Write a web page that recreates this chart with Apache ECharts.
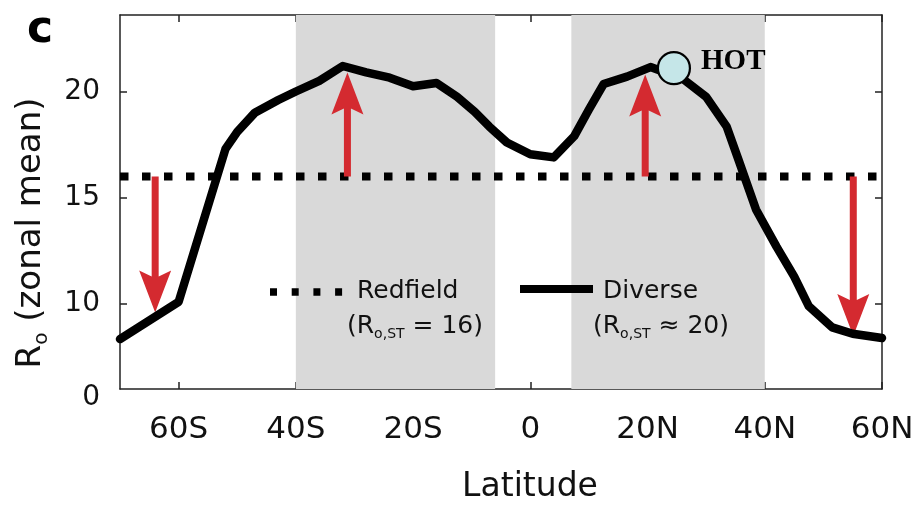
<!DOCTYPE html>
<html>
<head>
<meta charset="utf-8">
<script src="https://cdn.jsdelivr.net/npm/echarts@6/dist/echarts.min.js"></script>
<style>
  html, body { margin: 0; padding: 0; background: #fff; }
  #chart { width: 917px; height: 507px; }
</style>
</head>
<body>
<div id="chart"></div>
<script>
// Zonal-mean R_o along latitude (negative = south)
var latitudes = [-70, -60, -52, -50, -47, -43, -40, -36, -32, -28, -24, -20, -16, -12.5, -9.5, -7, -4, 0, 4, 7.5, 10, 12.5, 16.5, 20.5, 26, 30, 33.5, 35.5, 38.5, 42, 45, 47.5, 51.5, 55, 60];
var diverseValues = [8.35, 10.1, 17.3, 18.1, 19.0, 19.6, 20.0, 20.5, 21.2, 20.9, 20.65, 20.25, 20.4, 19.75, 19.05, 18.35, 17.6, 17.05, 16.9, 17.9, 19.15, 20.35, 20.7, 21.15, 20.6, 19.75, 18.35, 16.8, 14.45, 12.7, 11.3, 9.9, 8.9, 8.6, 8.4];

// Redfield reference ratio
var redfieldValue = 16;
var latRange = [-70, 60];

// Shaded latitude bands
var bandStarts = [-40, 7];
var bandEnds = [-6, 40];

// Arrows from the Redfield value to the zonal mean
var arrowLats = [-64, -31.2, 19.6, 55.1];
var arrowTips = [9.6, 20.9, 20.8, 8.5];

// HOT station marker
var hotLat = [24.5];
var hotValue = [21.1];
var hotName = 'HOT';

// Axis tick labels
var xTickValues = [-60, -40, -20, 0, 20, 40, 60];
var xTickLabels = ['60S', '40S', '20S', '0', '20N', '40N', '60N'];
var yTickValues = [6, 10, 15, 20];
var yTickLabels = ['0', '10', '15', '20'];
var yRange = [6, 23.6];

var SANS = '"DejaVu Sans", sans-serif';
var RED = '#d42a30';

var chart = echarts.init(document.getElementById('chart'), null, { renderer: 'canvas' });

var diverseData = latitudes.map(function (lat, i) { return [lat, diverseValues[i]]; });
var redfieldData = [[latRange[0], redfieldValue], [latRange[1], redfieldValue]];
var arrowData = arrowLats.map(function (lat, i) { return [lat, redfieldValue, arrowTips[i]]; });
var hotData = hotLat.map(function (lat, i) { return [lat, hotValue[i]]; });
var bandData = bandStarts.map(function (s, i) { return [{ xAxis: s }, { xAxis: bandEnds[i] }]; });

function xLabel(v) {
  var i = xTickValues.indexOf(v);
  return i >= 0 ? xTickLabels[i] : '';
}
function yLabel(v) {
  var i = yTickValues.indexOf(v);
  if (i < 0) return '';
  // the bottom label sits a little below the axis corner
  return i === 0 ? '{low|' + yTickLabels[i] + '}' : yTickLabels[i];
}

var axisLine = { show: true, onZero: false, lineStyle: { color: '#222', width: 1.5 } };
var tickStyle = { show: true, inside: true, length: 7, lineStyle: { color: '#222', width: 1.5 } };

function arrowItem(params, api) {
  var base = api.coord([api.value(0), api.value(1)]);
  var tip = api.coord([api.value(0), api.value(2)]);
  var dir = tip[1] > base[1] ? 1 : -1;
  var x = base[0];
  var shaftHalf = 3.5, headHalf = 16, headLen = 42, notch = 6;
  var backY = tip[1] - dir * headLen;
  var neckY = tip[1] - dir * (headLen - notch);
  return {
    type: 'polygon',
    shape: {
      points: [
        [x - shaftHalf, base[1]],
        [x + shaftHalf, base[1]],
        [x + shaftHalf, neckY],
        [x + headHalf, backY],
        [x, tip[1]],
        [x - headHalf, backY],
        [x - shaftHalf, neckY]
      ]
    },
    style: { fill: RED }
  };
}

var option = {
  backgroundColor: '#ffffff',
  animation: false,
  grid: { left: 120, right: 35, top: 15, bottom: 118, containLabel: false, outerBoundsMode: 'none' },
  xAxis: [
    {
      type: 'value', min: latRange[0], max: latRange[1],
      name: 'Latitude', nameLocation: 'middle', nameGap: 82,
      nameTextStyle: { fontFamily: SANS, fontSize: 33, color: '#111', padding: [0, 0, 0, 58] },
      axisLine: axisLine,
      axisTick: Object.assign({ customValues: xTickValues }, tickStyle),
      axisLabel: { customValues: xTickValues, formatter: xLabel, fontFamily: SANS, fontSize: 31, color: '#111', margin: 25 },
      splitLine: { show: false }
    },
    {
      type: 'value', min: latRange[0], max: latRange[1], position: 'top',
      axisLine: axisLine,
      axisTick: Object.assign({ customValues: xTickValues }, tickStyle),
      axisLabel: { show: false },
      splitLine: { show: false }
    }
  ],
  yAxis: [
    {
      type: 'value', min: yRange[0], max: yRange[1],
      name: '{m|R}{s|o}{m| (zonal mean)}', nameLocation: 'middle', nameGap: 68, nameRotate: 90,
      nameTextStyle: {
        color: '#111',
        padding: [0, 62, 0, 0],
        rich: {
          m: { fontFamily: SANS, fontSize: 34, color: '#111', lineHeight: 42 },
          s: { fontFamily: SANS, fontSize: 20, color: '#111', lineHeight: 20, verticalAlign: 'bottom' }
        }
      },
      axisLine: axisLine,
      axisTick: Object.assign({ customValues: [10, 15, 20] }, tickStyle),
      axisLabel: {
        customValues: yTickValues, formatter: yLabel, fontFamily: SANS, fontSize: 28, color: '#111', margin: 20,
        rich: { low: { fontFamily: SANS, fontSize: 28, color: '#111', padding: [18, 0, 0, 0] } }
      },
      splitLine: { show: false }
    },
    {
      type: 'value', min: yRange[0], max: yRange[1], position: 'right',
      axisLine: axisLine,
      axisTick: Object.assign({ customValues: [10, 15, 20] }, tickStyle),
      axisLabel: { show: false },
      splitLine: { show: false }
    }
  ],
  series: [
    {
      name: 'Redfield', type: 'line', data: redfieldData, symbol: 'none', z: 3,
      lineStyle: { color: '#000', width: 8, type: [8.5, 13.5], cap: 'butt' },
      markArea: {
        silent: true,
        itemStyle: { color: '#d9d9d9' },
        data: bandData
      }
    },
    {
      name: 'arrows', type: 'custom', data: arrowData, z: 4, silent: true,
      encode: { x: 0, y: [1, 2] },
      renderItem: arrowItem
    },
    {
      name: 'Diverse', type: 'line', data: diverseData, symbol: 'none', z: 5,
      lineStyle: { color: '#000', width: 8.5, join: 'round', cap: 'round' }
    },
    {
      name: hotName, type: 'scatter', data: hotData, z: 6, symbol: 'circle', symbolSize: 32,
      itemStyle: { color: '#c5e6e8', borderColor: '#000', borderWidth: 2.2, opacity: 1 },
      label: {
        show: true, position: 'right', distance: 10, formatter: hotName,
        fontFamily: '"Liberation Serif", "Times New Roman", serif', fontWeight: 'bold', fontSize: 29, color: '#000',
        offset: [0, -7]
      }
    }
  ],
  graphic: [
    { type: 'text', left: 27, top: 9, z: 100, style: { text: 'c', font: 'bold 44px ' + SANS, fill: '#000' } },
    // legend: Redfield
    { type: 'line', z: 100, shape: { x1: 270, y1: 292, x2: 343, y2: 292 }, style: { stroke: '#000', lineWidth: 7.5, lineDash: [7, 14.7], lineCap: 'butt' } },
    { type: 'text', z: 100, x: 357, y: 291, style: { text: 'Redfield', font: '25px ' + SANS, fill: '#111', verticalAlign: 'middle' } },
    { type: 'text', z: 100, x: 347, y: 326, style: {
        text: '{a|(R}{s|o,ST}{a| = 16)}', verticalAlign: 'middle',
        rich: {
          a: { fontFamily: SANS, fontSize: 25, fill: '#111', lineHeight: 30 },
          s: { fontFamily: SANS, fontSize: 14, fill: '#111', lineHeight: 14, verticalAlign: 'bottom' }
        }
      } },
    // legend: Diverse
    { type: 'line', z: 100, shape: { x1: 520, y1: 289, x2: 593, y2: 289 }, style: { stroke: '#000', lineWidth: 8 } },
    { type: 'text', z: 100, x: 603, y: 291, style: { text: 'Diverse', font: '25px ' + SANS, fill: '#111', verticalAlign: 'middle' } },
    { type: 'text', z: 100, x: 593, y: 326, style: {
        text: '{a|(R}{s|o,ST}{a| \u2248 20)}', verticalAlign: 'middle',
        rich: {
          a: { fontFamily: SANS, fontSize: 25, fill: '#111', lineHeight: 30 },
          s: { fontFamily: SANS, fontSize: 14, fill: '#111', lineHeight: 14, verticalAlign: 'bottom' }
        }
      } }
  ]
};

chart.setOption(option);
</script>
</body>
</html>
